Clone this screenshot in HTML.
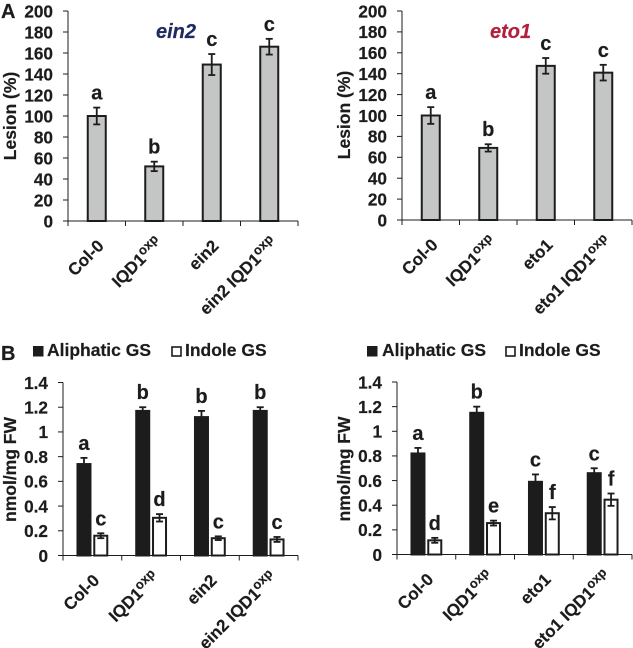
<!DOCTYPE html>
<html>
<head>
<meta charset="utf-8">
<title>Lesion and glucosinolate bar charts</title>
<style>
html,body{margin:0;padding:0;background:#fff;width:633px;height:648px;overflow:hidden}
svg{display:block;filter:blur(.35px)}
text{font-family:"Liberation Sans",sans-serif;font-weight:bold;fill:#1c1c1c;stroke:#1c1c1c;stroke-width:.2}
</style>
</head>
<body>
<svg id="fig" width="633" height="648" viewBox="0 0 633 648" xmlns="http://www.w3.org/2000/svg">
<text x="1" y="18" font-size="20">A</text>
<text x="1" y="360" font-size="20">B</text>
<g>
<rect x="33" y="346" width="10.5" height="10.5" fill="#1c1c1c"/>
<text x="47" y="356" font-size="17.5">Aliphatic GS</text>
<rect x="172" y="347" width="9" height="9" fill="#fff" stroke="#1c1c1c" stroke-width="1.6"/>
<text x="185" y="356" font-size="17.5">Indole GS</text>
</g>
<g>
<rect x="367" y="346" width="10.5" height="10.5" fill="#1c1c1c"/>
<text x="382" y="356" font-size="17.5">Aliphatic GS</text>
<rect x="506" y="347" width="9" height="9" fill="#fff" stroke="#1c1c1c" stroke-width="1.6"/>
<text x="519" y="356" font-size="17.5">Indole GS</text>
</g>
</svg>
<script>
const lesionTicks = ["0","20","40","60","80","100","120","140","160","180","200"];
const glucoTicks = ["0","0.2","0.4","0.6","0.8","1","1.2","1.4"];
const catsEin2 = ["Col-0","IQD1","ein2","ein2 IQD1"];
const catsEto1 = ["Col-0","IQD1","eto1","eto1 IQD1"];
const catSup = ["","oxp","","oxp"];

const lesionEin2 = [100,52,149,166];
const lesionEin2Err = [8,4.5,10,7.5];
const lesionEin2Sig = ["a","b","c","c"];
const lesionEto1 = [100,69,147.5,141];
const lesionEto1Err = [8,3.5,7.5,7.5];
const lesionEto1Sig = ["a","b","c","c"];

const aliphaticEin2 = [0.74,1.17,1.12,1.17];
const aliphaticEin2Err = [0.05,0.03,0.05,0.03];
const aliphaticEin2Sig = ["a","b","b","b"];
const indoleEin2 = [0.16,0.305,0.14,0.13];
const indoleEin2Err = [0.02,0.03,0.015,0.02];
const indoleEin2Sig = ["c","d","c","c"];

const aliphaticEto1 = [0.82,1.15,0.59,0.66];
const aliphaticEto1Err = [0.045,0.05,0.06,0.04];
const aliphaticEto1Sig = ["a","b","c","c"];
const indoleEto1 = [0.115,0.255,0.335,0.445];
const indoleEto1Err = [0.02,0.02,0.05,0.05];
const indoleEto1Sig = ["d","e","f","f"];

const svg = document.getElementById('fig');
const NS = 'http://www.w3.org/2000/svg';
const INK = '#1c1c1c';

function mk(tag, attrs, parent, txt) {
  const el = document.createElementNS(NS, tag);
  for (const k in attrs) el.setAttribute(k, attrs[k]);
  if (txt !== undefined) el.textContent = txt;
  parent.appendChild(el);
  return el;
}

function drawLine(parent, x1, y1, x2, y2, w, name) {
  const el = mk('line', {x1: x1, y1: y1, x2: x2, y2: y2, stroke: INK, 'stroke-width': w}, parent);
  
  
  return el;
}

function drawPanel(p) {
  const g = mk('g', {}, svg);
  
  
  const yScale = v => p.y0 + (p.yTop - p.y0) * v / p.max;
  const bandW = (p.xEnd - p.x0) / p.cats.length;
  const xScale = i => p.x0 + bandW * (i + 0.5);

  p.series.forEach(s => {
    s.values.forEach((v, i) => {
      const cx = xScale(i) + s.offset;
      const top = yScale(v);
      const errTop = yScale(v + s.err[i]);
      const errBot = yScale(v - s.err[i]);
      const bar = mk('rect', {x: cx - p.barW / 2 + 1, y: top, width: p.barW - 2, height: p.y0 - top, fill: s.fill, stroke: INK, 'stroke-width': 2}, g);
      
      
      drawLine(g, cx, errTop, cx, errBot, 1.8, 'error-bar-stem');
      drawLine(g, cx - 3.5, errTop, cx + 3.5, errTop, 1.8, 'error-bar-cap');
      drawLine(g, cx - 3.5, errBot, cx + 3.5, errBot, 1.8, 'error-bar-cap');
      const sig = mk('text', {x: cx, y: errTop - 8, 'font-size': 20, 'text-anchor': 'middle'}, g, s.sig[i]);
      
      
    });
  });

  drawLine(g, p.x0, p.yTop, p.x0, p.y0 + 4, 1, 'y-axis');
  drawLine(g, p.x0 - 5, p.y0, p.xEnd, p.y0, 1.1, 'x-axis');
  p.ticks.forEach(t => {
    const y = yScale(parseFloat(t));
    drawLine(g, p.x0 - 5, y, p.x0, y, 1, 'y-tick');
    const lbl = mk('text', {x: p.x0 - 15, y: y + 6.3, 'font-size': 17.2, 'text-anchor': 'end'}, g, t);
    
    
  });
  for (let i = 0; i <= p.cats.length; i++) {
    const x = p.x0 + bandW * i;
    drawLine(g, x, p.y0, x, p.y0 + 5, 1, 'x-tick');
  }
  p.cats.forEach((c, i) => {
    const ax = xScale(i) + 8 + (catSup[i] ? 1 : 0);
    const ay = p.y0 + 26 - (catSup[i] ? 3 : 0);
    const lbl = mk('text', {'font-size': 17, 'text-anchor': 'end', transform: 'translate(' + ax + ',' + ay + ') rotate(-45)'}, g);
    
    
    mk('tspan', {}, lbl, c);
    if (catSup[i]) {
      mk('tspan', {dy: -6, 'font-size': 13}, lbl, catSup[i]);
    }
  });

  const yt = mk('text', {'font-size': 17.5, 'text-anchor': 'middle', transform: 'translate(' + p.titleX + ',' + p.titleY + ') rotate(-90)'}, g, p.yTitle);
  
  

  if (p.heading) {
    const h = mk('text', {x: p.headingX, y: 38, 'font-size': 20, 'font-style': 'italic', style: 'fill:' + p.headingColor + ';stroke:' + p.headingColor}, g, p.heading);
    
    
  }
}

drawPanel({name: 'chart-lesion-ein2', x0: 68, xEnd: 298, y0: 221, yTop: 11, max: 200, barW: 20,
  ticks: lesionTicks, cats: catsEin2, yTitle: 'Lesion (%)', titleX: 16, titleY: 116,
  heading: 'ein2', headingX: 156, headingColor: '#1f2a60',
  series: [{key: 'lesion', values: lesionEin2, err: lesionEin2Err, sig: lesionEin2Sig, fill: '#c4c6c5', offset: 0}]});

drawPanel({name: 'chart-lesion-eto1', x0: 402, xEnd: 632, y0: 220, yTop: 11, max: 200, barW: 20,
  ticks: lesionTicks, cats: catsEto1, yTitle: 'Lesion (%)', titleX: 350, titleY: 115,
  heading: 'eto1', headingX: 490, headingColor: '#b3203c',
  series: [{key: 'lesion', values: lesionEto1, err: lesionEto1Err, sig: lesionEto1Sig, fill: '#c4c6c5', offset: 0}]});

drawPanel({name: 'chart-glucosinolate-ein2', x0: 63, xEnd: 298, y0: 555.5, yTop: 382.5, max: 1.4, barW: 15,
  ticks: glucoTicks, cats: catsEin2, yTitle: 'nmol/mg FW', titleX: 16, titleY: 469.5,
  series: [
    {key: 'aliphatic', values: aliphaticEin2, err: aliphaticEin2Err, sig: aliphaticEin2Sig, fill: INK, offset: -8.4},
    {key: 'indole', values: indoleEin2, err: indoleEin2Err, sig: indoleEin2Sig, fill: '#fff', offset: 8.4}
  ]});

drawPanel({name: 'chart-glucosinolate-eto1', x0: 397, xEnd: 632, y0: 554.5, yTop: 382, max: 1.4, barW: 15,
  ticks: glucoTicks, cats: catsEto1, yTitle: 'nmol/mg FW', titleX: 350, titleY: 469,
  series: [
    {key: 'aliphatic', values: aliphaticEto1, err: aliphaticEto1Err, sig: aliphaticEto1Sig, fill: INK, offset: -8.4},
    {key: 'indole', values: indoleEto1, err: indoleEto1Err, sig: indoleEto1Sig, fill: '#fff', offset: 8.4}
  ]});
</script>
</body>
</html>
